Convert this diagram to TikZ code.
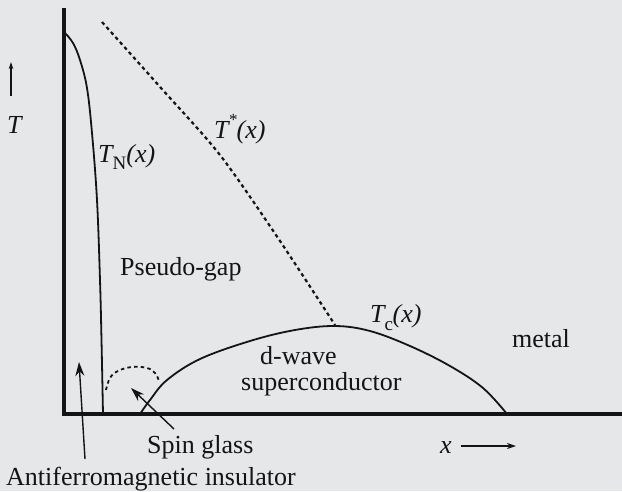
\documentclass[tikz,border=0pt]{standalone}
\usepackage{fontspec}
\setmainfont{Liberation Serif}
\usetikzlibrary{arrows.meta}
\definecolor{paper}{RGB}{229,231,232}
\definecolor{ink}{RGB}{20,20,20}
\newcommand{\subsz}{\fontsize{19}{22}\selectfont}
\newcommand{\starsz}{\fontsize{17}{20}\selectfont}
\begin{document}
\begin{tikzpicture}[x=1pt,y=-1pt,
  lbl/.style={inner sep=0pt,anchor=base west,text=ink,font=\fontsize{26}{30}\selectfont},
  axisline/.style={draw=ink,line width=3.2pt},
  curve/.style={draw=ink,line width=1.8pt},
  dotline/.style={draw=ink,line width=2.2pt,dash pattern=on 3.5pt off 3.2pt},
  pointer/.style={draw=ink,line width=1.4pt,-{Stealth[length=14pt,width=9pt]}},
  smallarrow/.style={draw=ink,line width=1.3pt,-{Stealth[length=9pt,width=6pt]}}]
\fill[paper] (0,0) rectangle (622,491);
\useasboundingbox (0,0) rectangle (622,491);
% axes
\coordinate (origin) at (64,414);
\coordinate (ytop) at (64,8);
\coordinate (xend) at (622,414);
\draw[axisline] (ytop) -- (origin) -- (xend);
% T_N curve
\draw[curve] plot[smooth,tension=0.6] coordinates {(65,33) (73,43) (80,60) (87,88) (92,133) (97,200) (100,280) (101.5,340) (103,414)};
% T* dotted
\draw[dotline] plot[smooth,tension=0.5] coordinates {(102,22) (161,88) (220,155) (278,238) (335,325)};
% Tc dome
\draw[curve] plot[smooth,tension=0.6] coordinates {(140,414) (150,400) (167,380) (200,359) (250,341) (295,330) (335,326) (370,331) (410,346) (450,366) (483,388) (507,414)};
% spin glass arc
\draw[dotline,line width=1.8pt] plot[smooth,tension=0.7] coordinates {(106,390) (110,378) (118,371) (132,367) (147,368) (155,373) (159,381)};
% labels
\node[lbl] (Tax) at (7,133) {\textit{T}};
\coordinate (Tarrowtail) at (11,96);
\coordinate (Tarrowtip) at (11,62);
\draw[draw=ink,line width=1.1pt,-{Stealth[length=7pt,width=4.5pt]}] (Tarrowtail) -- (Tarrowtip);
\node[lbl] (TN) at (98,162) {\textit{T}\kern-1.5pt\raisebox{-7pt}{\subsz N}\textit{(x)}};
\node[lbl] (Tstar) at (214,138) {\textit{T}\kern-1pt\raisebox{13pt}{\starsz *}\kern-1pt\textit{(x)}};
\node[lbl] (pg) at (120,275) {Pseudo-gap};
\node[lbl] (Tc) at (370,322) {\textit{T}\kern-1.5pt\raisebox{-8pt}{\subsz c}\kern-0.5pt\textit{(x)}};
\node[lbl] (metal) at (512,347) {metal};
\node[lbl] (dw) at (260,364) {d-wave};
\node[lbl] (sc) at (241,390) {superconductor};
\node[lbl] (xlab) at (440,453) {\textit{x}};
\coordinate (xarrowtail) at (461,446);
\coordinate (xarrowtip) at (516,446);
\draw[smallarrow] (xarrowtail) -- (xarrowtip);
\node[lbl] (sg) at (147,453) {Spin glass};
\node[lbl] (afi) at (6,485) {Antiferromagnetic insulator};
% pointers
\coordinate (sgtail) at (174,429);
\coordinate (sgtip) at (131,388);
\draw[pointer] (sgtail) -- (sgtip);
\coordinate (aftail) at (85,459);
\coordinate (aftip) at (79,362);
\draw[pointer] (aftail) -- (aftip);
\end{tikzpicture}
\end{document}
